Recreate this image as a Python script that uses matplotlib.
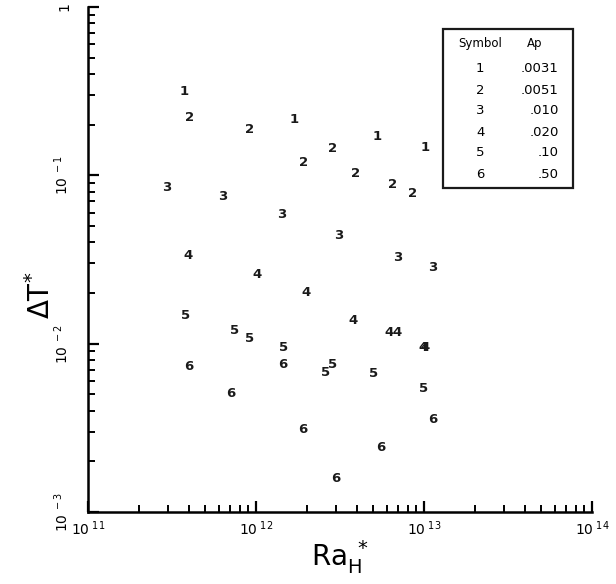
import matplotlib
matplotlib.use('Agg')
from matplotlib import pyplot as plt
from matplotlib.patches import Rectangle
from matplotlib.ticker import LogLocator, FixedLocator, FixedFormatter, NullFormatter

# data: Ra_H* (x) and dT* (y) for each symbol
ra_1 = [3.73e11, 1.68e12, 5.25e12, 1.01e13]
dt_1 = [0.313, 0.216, 0.169, 0.147]

ra_2 = [4.05e11, 9.2e11, 2.87e12, 1.91e12, 3.94e12, 6.46e12, 8.6e12]
dt_2 = [0.222, 0.186, 0.145, 0.120, 0.103, 0.0888, 0.0785]

ra_3 = [2.95e11, 6.37e11, 1.43e12, 3.12e12, 7.0e12, 1.12e13]
dt_3 = [0.0841, 0.0753, 0.0589, 0.0442, 0.0323, 0.0285]

ra_4 = [3.93e11, 1.01e12, 1.99e12, 3.78e12, 6.19e12, 6.9e12, 9.86e12, 1.01e13]
dt_4 = [0.0336, 0.0259, 0.0200, 0.0138, 0.0117, 0.0117, 0.00955, 0.00955]

ra_5 = [3.83e11, 7.5e11, 9.2e11, 1.45e12, 2.58e12, 2.87e12, 5.03e12, 1.0e13]
dt_5 = [0.0148, 0.0120, 0.0108, 0.00955, 0.00678, 0.00757, 0.00669, 0.00545]

ra_6 = [3.99e11, 7.1e11, 1.45e12, 1.91e12, 5.55e12, 2.99e12, 1.12e13]
dt_6 = [0.00736, 0.00509, 0.00757, 0.00311, 0.0024, 0.00159, 0.00356]

symbols = ['1', '2', '3', '4', '5', '6']
ap_values = ['.0031', '.0051', '.010', '.020', '.10', '.50']
series = [(ra_1, dt_1), (ra_2, dt_2), (ra_3, dt_3),
          (ra_4, dt_4), (ra_5, dt_5), (ra_6, dt_6)]

x_ticks = [1e11, 1e12, 1e13, 1e14]
x_labels = [r'$\mathregular{10^{\ 11}}$', r'$\mathregular{10^{\ 12}}$',
            r'$\mathregular{10^{\ 13}}$', r'$\mathregular{10^{\ 14}}$']
y_ticks = [1e-3, 1e-2, 1e-1, 1]
y_labels = [r'$\mathregular{10^{\ -3}}$', r'$\mathregular{10^{\ -2}}$',
            r'$\mathregular{10^{\ -1}}$', '1']

fig = plt.figure(figsize=(6.16, 5.84), dpi=100)
ax = fig.add_axes([88/616, 1 - 512/584, 504/616, 505/584])
ax.set_xscale('log')
ax.set_yscale('log')
ax.set_xlim(1e11, 1e14)
ax.set_ylim(1e-3, 1)

# the points are drawn as their symbol digits
for sym, (xs, ys) in zip(symbols, series):
    for x, y in zip(xs, ys):
        ax.text(x, y, sym, ha='center', va='center', fontsize=9.5,
                fontweight='bold', color='#1a1a1a')

for side in ['top', 'right']:
    ax.spines[side].set_visible(False)
for side in ['left', 'bottom']:
    ax.spines[side].set_linewidth(1.8)

ax.xaxis.set_major_locator(FixedLocator(x_ticks))
ax.xaxis.set_major_formatter(FixedFormatter(x_labels))
ax.yaxis.set_major_locator(FixedLocator(y_ticks))
ax.yaxis.set_major_formatter(FixedFormatter(y_labels))
ax.xaxis.set_minor_locator(LogLocator(base=10, subs=range(2, 10)))
ax.yaxis.set_minor_locator(LogLocator(base=10, subs=range(2, 10)))
ax.xaxis.set_minor_formatter(NullFormatter())
ax.yaxis.set_minor_formatter(NullFormatter())
ax.tick_params(which='major', direction='in', length=8, width=1.6, labelsize=10)
ax.tick_params(which='minor', direction='in', length=5, width=1.4)
ax.tick_params(axis='x', pad=5)
ax.tick_params(axis='y', pad=12)
for lab in ax.get_yticklabels():
    lab.set_rotation(90)
    lab.set_va('center')

ax.set_xlabel(r'$\mathregular{Ra_H^{\ *}}$', fontsize=20)
ax.xaxis.set_label_coords(0.5, -0.052)
ax.set_ylabel(r'$\mathregular{\Delta T^{*}}$', fontsize=20)
ax.yaxis.set_label_coords(-0.063, 0.43)

# legend table in the upper right
ax.add_patch(Rectangle((0.704, 0.642), 0.258, 0.314, transform=ax.transAxes,
                       fill=False, lw=1.6, ec='#1a1a1a', clip_on=False))
ax.text(0.778, 0.927, 'Symbol', transform=ax.transAxes, ha='center',
        va='center', fontsize=8.5)
ax.text(0.887, 0.927, 'Ap', transform=ax.transAxes, ha='center',
        va='center', fontsize=8.5)
for i, (sym, ap) in enumerate(zip(symbols, ap_values)):
    yy = (512 - (69 + 21 * i)) / 505
    ax.text(0.778, yy, sym, transform=ax.transAxes, ha='center',
            va='center', fontsize=9.5)
    ax.text(0.934, yy, ap, transform=ax.transAxes, ha='right',
            va='center', fontsize=9.5)

fig.savefig('out.png', dpi=100)
